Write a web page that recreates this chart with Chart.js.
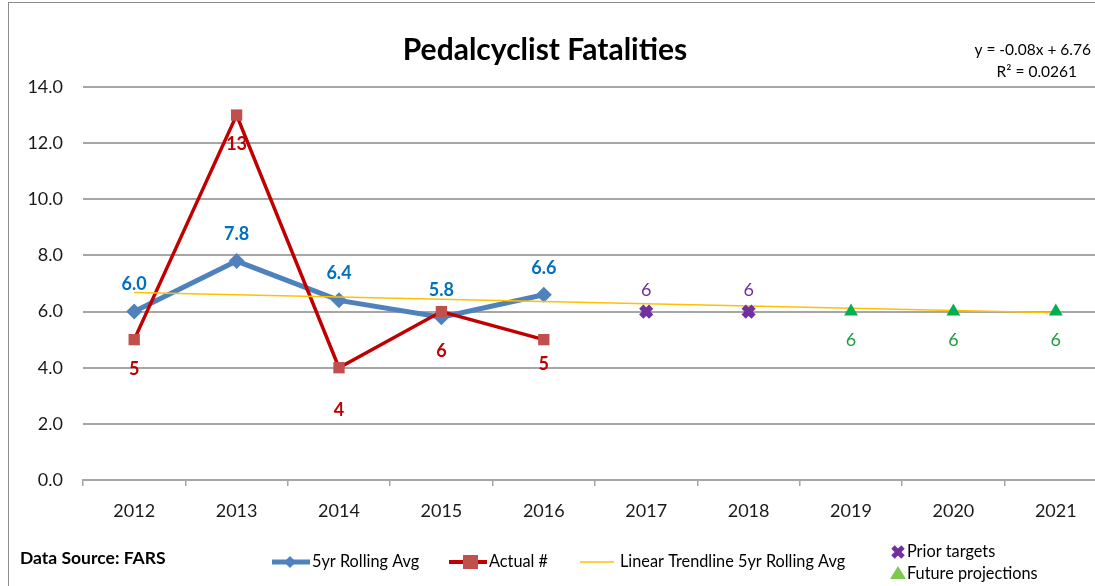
<!DOCTYPE html>
<html>
<head>
<meta charset="utf-8">
<title>Pedalcyclist Fatalities</title>
<script src="https://cdn.jsdelivr.net/npm/chart.js@4.4.1/dist/chart.umd.min.js"></script>
<style>
  html, body { margin: 0; padding: 0; background: #fff; overflow: hidden; }
  #wrap { position: relative; width: 1095px; height: 586px; overflow: hidden; }
  canvas { display: block; }
</style>
</head>
<body>
<div id="wrap"><canvas id="chart" width="1120" height="586"></canvas></div>
<script>
const years = ['2012', '2013', '2014', '2015', '2016', '2017', '2018', '2019', '2020', '2021'];
const rollingAvg = [6.0, 7.8, 6.4, 5.8, 6.6, null, null, null, null, null];
const actual = [5, 13, 4, 6, 5, null, null, null, null, null];
const trendline = [6.68, 6.60, 6.52, 6.44, 6.36, 6.28, 6.20, 6.12, 6.04, 5.96];
const priorTargets = [null, null, null, null, null, 6, 6, null, null, null];
const futureProjections = [null, null, null, null, null, null, null, 6, 6, 6];
const yTicks = [0, 2, 4, 6, 8, 10, 12, 14];

const FONT = 'Lato, "Open Sans", sans-serif';
const BLUE = '#4f81bd';
const RED = '#c00000';
const SQUARE = '#c0504d';
const YELLOW = '#ffc000';
const PURPLE = '#7030a0';
const GREEN = '#00b050';

// value labels + title + legend drawn on the canvas
const extras = {
  id: 'extras',
  afterDatasetsDraw(chart) {
    const ctx = chart.ctx;
    ctx.save();
    ctx.textAlign = 'center';
    ctx.textBaseline = 'middle';

    const labelSet = [
      { ds: 0, color: '#0070c0', dy: -27, fmt: v => v.toFixed(1) },
      { ds: 1, color: RED, dy: 30, fmt: v => String(v) },
      { ds: 3, color: PURPLE, dy: -21, fmt: v => String(v) },
      { ds: 4, color: '#1e9e3e', dy: 29, fmt: v => String(v) }
    ];
    const redOffsets = [30, 29, 42, 40, 25];
    labelSet.forEach(s => {
      const meta = chart.getDatasetMeta(s.ds);
      const data = chart.data.datasets[s.ds].data;
      ctx.fillStyle = s.color;
      ctx.font = (s.ds <= 1 ? 'bold 18px ' : '18px ') + FONT;
      meta.data.forEach((pt, i) => {
        if (data[i] == null) return;
        let dy = s.dy;
        if (s.ds === 1) dy = redOffsets[i];
        ctx.fillText(s.fmt(data[i]), pt.x, pt.y + dy);
      });
    });
    ctx.restore();
  },
  afterDraw(chart) {
    const ctx = chart.ctx;
    ctx.save();
    // outer frame
    ctx.strokeStyle = '#8c8c8c';
    ctx.lineWidth = 1;
    ctx.strokeRect(8.5, 2.5, 1200, 700);

    // title
    ctx.fillStyle = '#000';
    ctx.textAlign = 'center';
    ctx.textBaseline = 'middle';
    ctx.font = 'bold 30px ' + FONT;
    ctx.fillText('Pedalcyclist Fatalities', 545, 50);

    // trend equation
    ctx.font = '15.5px ' + FONT;
    ctx.textAlign = 'right';
    ctx.fillText('y = -0.08x + 6.76', 1091, 50);
    ctx.fillText('R\u00B2 = 0.0261', 1077, 72);

    // data source
    ctx.textAlign = 'left';
    ctx.font = 'bold 17.5px ' + FONT;
    ctx.fillText('Data Source: FARS', 20, 558);

    // legend
    ctx.font = '16.3px ' + FONT;
    const ly = 562;
    ctx.lineCap = 'butt';
    ctx.strokeStyle = BLUE; ctx.lineWidth = 5;
    ctx.beginPath(); ctx.moveTo(272, ly); ctx.lineTo(310, ly); ctx.stroke();
    ctx.fillStyle = BLUE;
    ctx.beginPath();
    ctx.moveTo(290, ly - 6); ctx.lineTo(296, ly); ctx.lineTo(290, ly + 6); ctx.lineTo(284, ly);
    ctx.closePath(); ctx.fill();
    ctx.fillStyle = '#000';
    ctx.fillText('5yr Rolling Avg', 312, ly);

    ctx.strokeStyle = RED; ctx.lineWidth = 4;
    ctx.beginPath(); ctx.moveTo(449, ly); ctx.lineTo(487, ly); ctx.stroke();
    ctx.fillStyle = SQUARE;
    ctx.fillRect(463, ly - 7, 15, 14);
    ctx.fillStyle = '#000';
    ctx.fillText('Actual #', 489, ly);

    ctx.strokeStyle = YELLOW; ctx.lineWidth = 1.5;
    ctx.beginPath(); ctx.moveTo(580, ly); ctx.lineTo(614, ly); ctx.stroke();
    ctx.fillStyle = '#000';
    ctx.fillText('Linear Trendline 5yr Rolling Avg', 620, ly);

    ctx.strokeStyle = PURPLE; ctx.lineWidth = 5;
    ctx.beginPath();
    ctx.moveTo(893, 547); ctx.lineTo(903, 557);
    ctx.moveTo(903, 547); ctx.lineTo(893, 557);
    ctx.stroke();
    ctx.fillStyle = '#000';
    ctx.fillText('Prior targets', 907, 552);

    ctx.fillStyle = '#7ec850';
    ctx.beginPath();
    ctx.moveTo(898, 566); ctx.lineTo(906, 579); ctx.lineTo(890, 579);
    ctx.closePath(); ctx.fill();
    ctx.fillStyle = '#000';
    ctx.fillText('Future projections', 907, 574);
    ctx.restore();
  }
};

new Chart(document.getElementById('chart'), {
  type: 'line',
  data: {
    labels: years,
    datasets: [
      {
        label: '5yr Rolling Avg',
        data: rollingAvg,
        borderColor: BLUE,
        backgroundColor: BLUE,
        borderWidth: 5,
        pointStyle: 'rectRot',
        pointRadius: 8,
        pointBorderWidth: 0,
        order: 3
      },
      {
        label: 'Actual #',
        data: actual,
        borderColor: RED,
        backgroundColor: SQUARE,
        borderWidth: 3.5,
        pointStyle: 'rect',
        pointRadius: 8,
        pointBorderWidth: 0,
        order: 2
      },
      {
        label: 'Linear Trendline 5yr Rolling Avg',
        data: trendline,
        borderColor: YELLOW,
        borderWidth: 1.5,
        pointRadius: 0,
        order: 1
      },
      {
        label: 'Prior targets',
        data: priorTargets,
        showLine: false,
        pointStyle: 'crossRot',
        pointRadius: 7,
        pointBorderWidth: 6,
        borderColor: PURPLE,
        backgroundColor: PURPLE,
        order: 0
      },
      {
        label: 'Future projections',
        data: futureProjections,
        showLine: false,
        pointStyle: 'triangle',
        pointRadius: 8,
        pointBorderWidth: 0,
        backgroundColor: GREEN,
        borderColor: GREEN,
        order: 0
      }
    ]
  },
  options: {
    responsive: false,
    animation: false,
    layout: { padding: { top: 87, left: 0, right: 12, bottom: 0 } },
    plugins: {
      legend: { display: false },
      title: { display: false },
      tooltip: { enabled: false }
    },
    scales: {
      x: {
        offset: true,
        afterFit: scale => { scale.height = 106; },
        grid: {
          offset: true,
          drawOnChartArea: false,
          drawTicks: true,
          tickLength: 6,
          color: '#a6a6a6',
          lineWidth: 1.5
        },
        border: { display: true, color: '#a6a6a6', width: 2 },
        ticks: {
          color: '#1a1a1a',
          padding: 14,
          maxRotation: 0,
          font: { family: FONT, size: 18 }
        }
      },
      y: {
        min: 0,
        max: 14,
        afterFit: scale => { scale.width = 83; },
        afterBuildTicks: scale => { scale.ticks = yTicks.map(v => ({ value: v })); },
        grid: {
          color: '#a6a6a6',
          lineWidth: 2,
          drawTicks: false
        },
        border: { display: false },
        ticks: {
          color: '#1a1a1a',
          padding: 20,
          font: { family: FONT, size: 18 },
          callback: v => Number(v).toFixed(1)
        }
      }
    }
  },
  plugins: [extras]
});
</script>
</body>
</html>
